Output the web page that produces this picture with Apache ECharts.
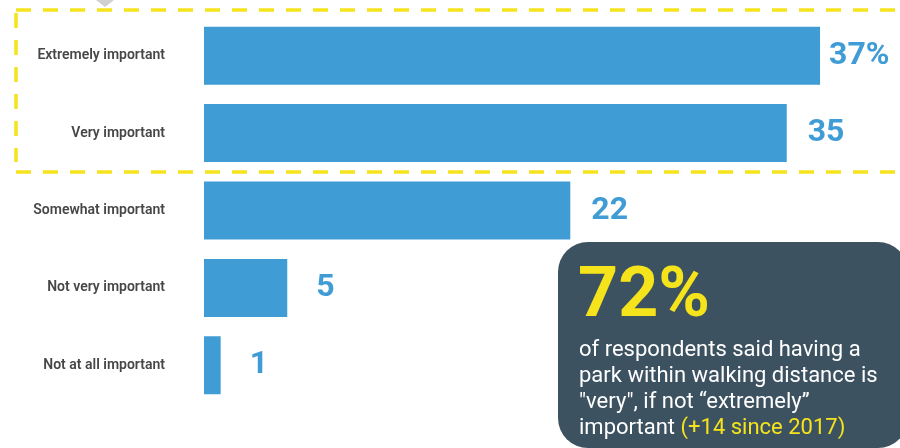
<!DOCTYPE html>
<html>
<head>
<meta charset="utf-8">
<script src="https://cdn.jsdelivr.net/npm/echarts@6/dist/echarts.min.js"></script>
<style>
  html, body { margin: 0; padding: 0; background: #ffffff; }
  #chart { width: 900px; height: 448px; }
</style>
</head>
<body>
<div id="chart"></div>
<script>
// Survey answers: how important is a park within walking distance
const categories = [
  'Extremely important',
  'Very important',
  'Somewhat important',
  'Not very important',
  'Not at all important'
];
const shares = [37, 35, 22, 5, 1];
const valueLabels = ['37%', '35', '22', '5', '1'];

// Callout text
const headline = '72%';
const calloutLines = [
  'of respondents said having a',
  'park within walking distance is',
  '"very", if not \u201Cextremely\u201D'
];
const calloutLast = 'important ';
const calloutChange = '(+14 since 2017)';

const BLUE = '#409cd5';
const YELLOW = '#f5e31c';
const SLATE = '#3d5260';

// gap between bar end and its value label
const labelGaps = [9, 21, 21, 29, 29];

const barData = shares.map((v, i) => ({
  value: v,
  label: { distance: labelGaps[i], formatter: valueLabels[i] }
}));

const dash = { stroke: YELLOW, lineWidth: 3.5, lineDash: [15, 12] };

const chart = echarts.init(document.getElementById('chart'), null, { renderer: 'canvas' });
chart.setOption({
  animation: false,
  backgroundColor: '#ffffff',
  grid: { left: 204, top: 17, width: 666, height: 387, containLabel: false },
  xAxis: {
    type: 'value', min: 0, max: 40, show: false
  },
  yAxis: {
    type: 'category',
    data: categories,
    inverse: true,
    axisLine: { show: false },
    axisTick: { show: false },
    splitLine: { show: false },
    axisLabel: {
      margin: 39,
      color: '#474747',
      fontFamily: 'Roboto',
      fontWeight: 600,
      fontSize: 14,
      padding: [4, 0, 0, 0]
    }
  },
  series: [{
    type: 'bar',
    data: barData,
    barWidth: 58,
    itemStyle: { color: BLUE },
    label: {
      show: true,
      position: 'right',
      color: BLUE,
      fontFamily: 'Roboto',
      fontWeight: 'bold',
      fontSize: 32
    }
  }],
  graphic: [
    // small pointer at the top edge
    { type: 'polygon', shape: { points: [[96, 0], [114, 0], [105, 7]] }, style: { fill: '#d0d0d0' } },
    // dashed frame around the top two answers
    { type: 'line', shape: { x1: 16, y1: 10, x2: 900, y2: 10 }, style: dash },
    { type: 'line', shape: { x1: 16, y1: 13, x2: 16, y2: 162 }, style: dash },
    { type: 'line', shape: { x1: 16, y1: 172, x2: 900, y2: 172 }, style: dash },
    // callout box
    {
      type: 'rect', z: 10,
      shape: { x: 558, y: 242, width: 350, height: 206, r: [30, 30, 30, 30] },
      style: { fill: SLATE }
    },
    {
      type: 'text', z: 11, left: 578, top: 263,
      style: {
        text: headline, fill: YELLOW,
        font: 'bold 70px Roboto'
      }
    },
    {
      type: 'text', z: 11, left: 579, top: 337,
      style: {
        text: calloutLines.join('\n') + '\n{w|' + calloutLast + '}{y|' + calloutChange + '}',
        fill: '#ffffff',
        font: '22px Roboto',
        lineHeight: 26,
        rich: {
          w: { fill: '#ffffff', font: '22px Roboto', lineHeight: 26 },
          y: { fill: YELLOW, font: '22px Roboto', lineHeight: 26 }
        }
      }
    }
  ]
});
</script>
</body>
</html>
